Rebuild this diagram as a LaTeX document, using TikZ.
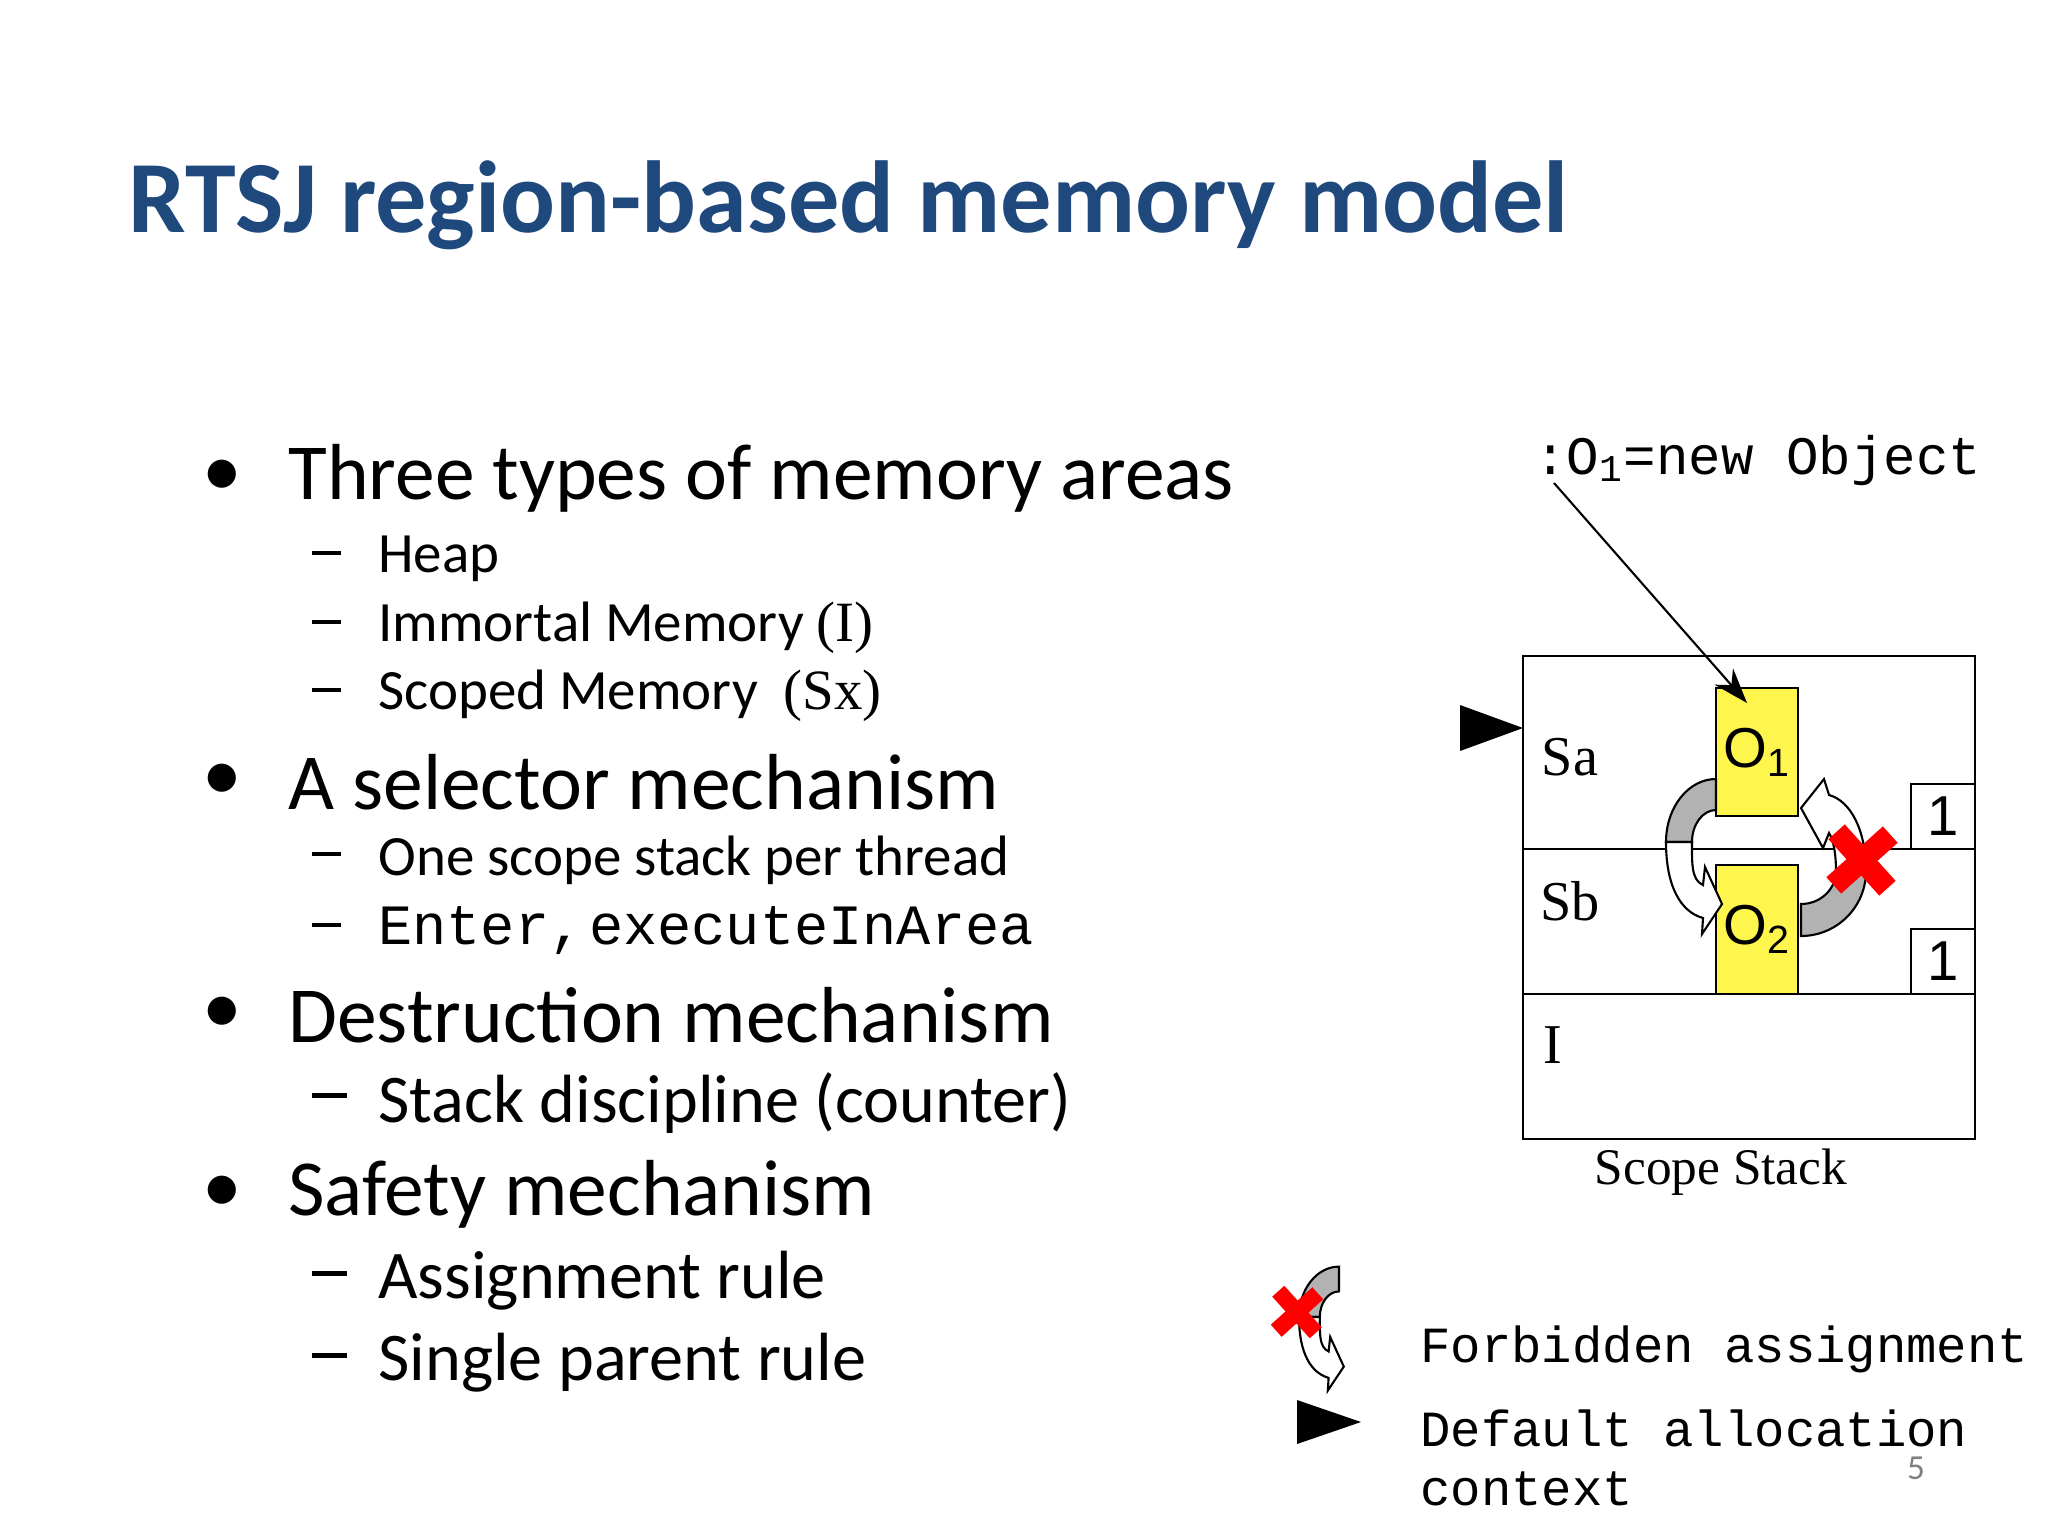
\documentclass[tikz,border=0pt]{standalone}
\usetikzlibrary{arrows.meta}
\usepackage{fontspec}
\setmainfont{Carlito}
\newfontfamily\ser{Liberation Serif}
\newfontfamily\mon{Liberation Mono}
\newfontfamily\ari{Liberation Sans}
\definecolor{ttl}{RGB}{31,73,125}
\newcommand\lcurvearrow{%
 \fill[gray!60,draw=black,line width=0.6pt] (0,-63) arc[start angle=270,end angle=180,x radius=50,y radius=63] -- (-24,0) arc[start angle=180,end angle=270,x radius=24,y radius=32] -- cycle;
 \filldraw[fill=white,draw=black,line width=0.6pt] (-50,0) .. controls (-50,45) and (-35,70) .. (-13,76) -- (-14,92) -- (6,62) -- (-11,25) -- (-13,43) .. controls (-25,38) and (-24,20) .. (-24,0) -- cycle;}
\newcommand\redcross[1]{%
 \fill[red,rotate=42] (-#1,-#1*0.29) rectangle (#1,#1*0.29);
 \fill[red,rotate=-48] (-#1,-#1*0.29) rectangle (#1,#1*0.29);}
\newcommand\dsh{\raisebox{0.22em}{\rule{0.5em}{0.07em}}}
\begin{document}
\begin{tikzpicture}[x=0.01cm,y=-0.01cm,
 big/.style={anchor=west,font=\fontsize{22.6}{26}\selectfont},
 sml/.style={anchor=west,font=\fontsize{16.2}{20}\selectfont},
 smb/.style={anchor=west,font=\fontsize{19.4}{22}\selectfont},
 lab/.style={font=\ser\fontsize{16}{19}\selectfont},
 obj/.style={draw=black,fill=yellow!70,line width=0.8pt,minimum width=82*0.01cm,inner sep=0pt},
 cnt/.style={draw=black,fill=white,line width=0.8pt,minimum width=64*0.01cm,minimum height=65*0.01cm,inner sep=0pt,font=\ari\fontsize{16}{19}\selectfont},
 leg/.style={anchor=west,font=\mon\fontsize{14.4}{17}\selectfont}]
\useasboundingbox (0,0) rectangle (2048,1536);
\node[anchor=base west,text=ttl,font=\bfseries\fontsize{29.1}{34}\selectfont] (title) at (116,232) {RTSJ region-based memory model};
% bullets
\foreach \y/\t in {478/Three types of memory areas,782/A selector mechanism,1015/Destruction mechanism,1194/Safety mechanism}{
 \node[big] at (190,\y) {•};
 \node[big] at (276,\y) {\t};}
\foreach \y in {559,628,696,860,931}{\node[sml] at (300,\y) {\dsh};}
\foreach \y in {1103,1281,1363}{\node[smb] at (300,\y) {\dsh};}
\node[sml] (h) at (366,559) {Heap};
\node[sml] (im) at (366,628) {Immortal Memory {\ser(I)}};
\node[sml] (sc) at (366,696) {Scoped Memory\ \ {\ser(Sx)}};
\node[sml] (os) at (366,860) {One scope stack per thread};
\node[sml,font=\mon\fontsize{16.2}{20}\selectfont] (en) at (366,931) {Enter,\hspace{0.1em}executeInArea};
\node[smb] (sd) at (366,1103) {Stack discipline (counter)};
\node[smb] (ar) at (366,1281) {Assignment rule};
\node[smb] (sp) at (366,1363) {Single parent rule};
% stack
\draw[line width=0.8pt] (1523,656) rectangle (1975,1139);
\draw[line width=0.8pt] (1523,849) -- (1975,849) (1523,994) -- (1975,994);
\node[lab] at (1570,757) {Sa};
\node[lab] at (1570,901) {Sb};
\node[lab] at (1553,1045) {I};
\node[lab,font=\ser\fontsize{14.6}{18}\selectfont] at (1721,1172) {Scope Stack};
\node[obj,minimum height=128*0.01cm] (o1) at (1757,752) {\ari\fontsize{16}{19}\selectfont O\textsubscript{1}};
\node[obj,minimum height=129*0.01cm] (o2) at (1757,929.5) {\ari\fontsize{16}{19}\selectfont O\textsubscript{2}};
\node[cnt] (c1) at (1943,816.5) {1};
\node[cnt] (c2) at (1943,961.5) {1};
\fill (1460,705) -- (1523,728) -- (1460,751) -- cycle;
\node[anchor=west,font=\mon\fontsize{15.4}{18}\selectfont] (new) at (1522,460) {:O\textsubscript{1}=new Object};
\coordinate (ns) at (1554,483);
\draw[-{Stealth[length=10pt,width=7pt]},line width=0.6pt] (ns) -- (1747,703);
% curved arrows
\begin{scope}[shift={(1716,842)}]\lcurvearrow\end{scope}
\begin{scope}[shift={(1801,871)}]
 \fill[gray!60,draw=black,line width=0.6pt] (0,65) arc[start angle=90,end angle=0,radius=65] -- (35,0) arc[start angle=0,end angle=90,x radius=35,y radius=33] -- cycle;
 \filldraw[fill=white,draw=black,line width=0.6pt] (65,0) .. controls (65,-40) and (50,-70) .. (28,-76) -- (23,-92) -- (0,-63) -- (22,-23) -- (28,-38) .. controls (33,-30) and (35,-15) .. (35,0) -- cycle;
\end{scope}
\begin{scope}[shift={(1862,860)}]\redcross{38}\end{scope}
% legend
\begin{scope}[shift={(1339,1317)},scale=0.8]\lcurvearrow\end{scope}
\begin{scope}[shift={(1297,1312)}]\redcross{28}\end{scope}
\fill (1297,1400) -- (1361,1422) -- (1297,1444) -- cycle;
\node[leg] (fa) at (1408,1349) {Forbidden assignment};
\node[leg,align=left,anchor=north west] (da) at (1408,1397) {Default allocation\\context};
\node[text=gray,font=\fontsize{10}{12}\selectfont] (pg) at (1916,1468) {5};
\end{tikzpicture}
\end{document}
